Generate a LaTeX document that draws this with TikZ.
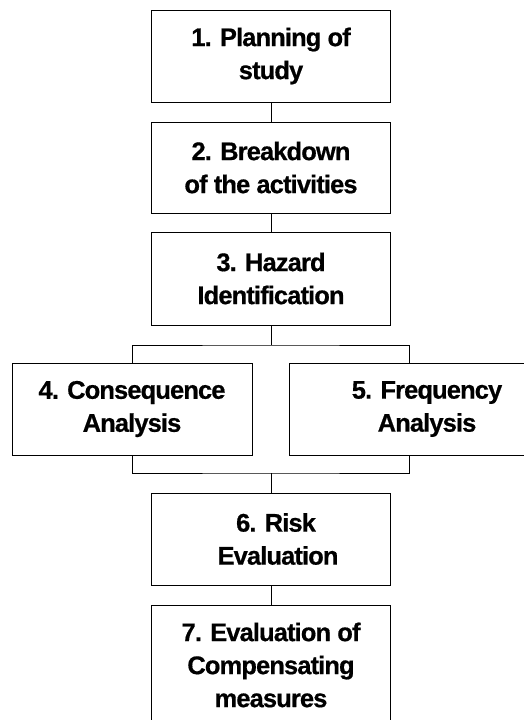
\documentclass[tikz,border=0pt]{standalone}
\usepackage{fontspec}
\setmainfont{Liberation Sans}
\newfontfamily\boxfont[LetterSpace=-3.5,FakeBold=0.6]{Liberation Sans Bold}
\begin{document}
\begin{tikzpicture}[x=1pt,y=-1pt,
  stepbox/.style={draw=black,line width=0.9pt,inner sep=0pt,align=center,
    font=\boxfont\fontsize{25.5}{33}\selectfont,minimum width=239pt,minimum height=92pt},
  link/.style={draw=black,line width=0.9pt}]
\useasboundingbox (0,0) rectangle (524,720);
\clip (0,0) rectangle (524,720);
\node[stepbox] (b1) at (271,56) {1. Planning of\\study};
\node[stepbox,minimum height=91pt] (b2) at (271,167.5) {2. Breakdown\\of the activities};
\node[stepbox,minimum height=93pt] (b3) at (271,278.5) {3. Hazard\\Identification};
\node[stepbox,minimum width=240pt] (b4) at (132,409) {4. Consequence\\Analysis};
\node[stepbox,minimum width=276pt] (b5) at (427,409) {5. Frequency\\Analysis};
\node[stepbox] (b6) at (271,539) {\hspace*{10pt}6. Risk\\\hspace*{14pt}Evaluation};
\node[stepbox,minimum height=120pt] (b7) at (271,665) {7. Evaluation of\\Compensating\\measures};
\coordinate (jt) at (271,345);
\coordinate (jb) at (271,473);
\coordinate (r5t) at (409,363);
\coordinate (r5b) at (409,455);
\draw[link] (b1.south) -- (b2.north);
\draw[link] (b2.south) -- (b3.north);
\draw[link] (b3.south) -- (jt);
\draw[link] (b4.north) |- (jt) -| (r5t);
\draw[link] (b4.south) |- (jb) -| (r5b);
\draw[link] (jb) -- (b6.north);
\draw[link] (b6.south) -- (b7.north);
\end{tikzpicture}
\end{document}
